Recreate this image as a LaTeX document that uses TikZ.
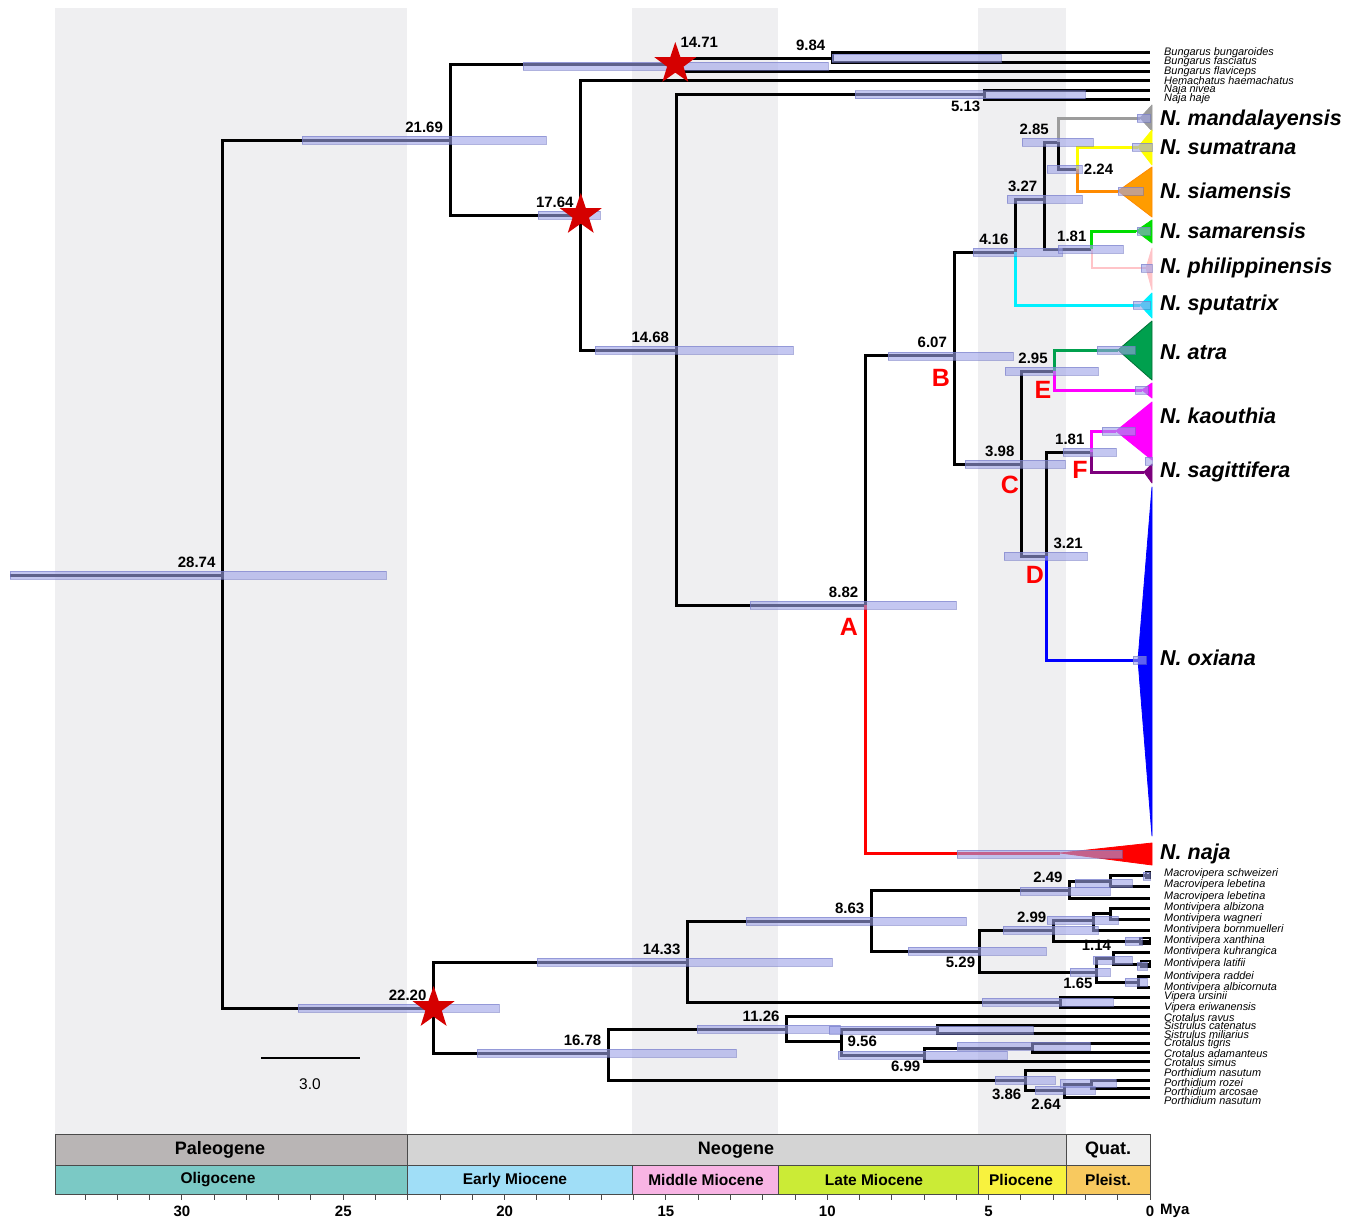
\documentclass[tikz,border=0pt]{standalone}
\usepackage{fontspec}
\setmainfont{Liberation Sans}
\usetikzlibrary{shapes.geometric}

% colours of the figure
\definecolor{stripegrey}{HTML}{EFEFF1}
\definecolor{hpdfill}{HTML}{9EA3E8}
\definecolor{hpdedge}{HTML}{6E74C4}
\definecolor{starred}{HTML}{D50000}
\definecolor{boxline}{HTML}{4A4A4A}
\definecolor{paleo}{HTML}{B9B5B5}
\definecolor{neo}{HTML}{D4D4D4}
\definecolor{quat}{HTML}{EFEFEF}
\definecolor{oligo}{HTML}{7BC9C5}
\definecolor{emio}{HTML}{A0DEF7}
\definecolor{mmio}{HTML}{F8B4E4}
\definecolor{lmio}{HTML}{CBEB36}
\definecolor{plio}{HTML}{F8F23E}
\definecolor{pleist}{HTML}{F8C95F}
\definecolor{mandgrey}{HTML}{9C9C9C}
\definecolor{sumyellow}{HTML}{FFFF00}
\definecolor{siamorange}{HTML}{FF8A00}
\definecolor{samgreen}{HTML}{00DD00}
\definecolor{philpink}{HTML}{FFC4C8}
\definecolor{sputcyan}{HTML}{00F0FF}
\definecolor{atragreen}{HTML}{00A04E}
\definecolor{kaomag}{HTML}{FF00FF}
\definecolor{sagpurple}{HTML}{7D007D}
\definecolor{oxblue}{HTML}{0000FF}
\definecolor{najared}{HTML}{FF0000}

% age (Mya) -> x position
\newcommand{\ax}[1]{1150-32.27*#1}
% 95% HPD bar from x1 to x2 at height y
\newcommand{\hpd}[3]{\draw[hpdbar] (#1,{#3-4}) rectangle (#2,{#3+4});}

\begin{document}
\begin{tikzpicture}[
    x=1pt, y=-1pt,
    branch/.style={line width=3pt, line join=miter},
    hpdbar/.style={fill=hpdfill, fill opacity=0.6, draw=hpdedge, draw opacity=0.55, line width=0.8pt},
    clade/.style={line width=0.8pt, line join=round},
    age/.style={font=\fontsize{15}{17}\selectfont\bfseries, inner sep=1pt},
    agel/.style={age, anchor=south east, xshift=-6pt, yshift=6pt},
    ager/.style={age, anchor=south west, xshift=6pt, yshift=6pt},
    ageb/.style={age, anchor=north east, xshift=-3pt, yshift=-5pt},
    agert/.style={age, anchor=west, xshift=5pt},
    clademark/.style={font=\fontsize{25}{28}\selectfont\bfseries, text=red},
    cladename/.style={font=\fontsize{21.5}{24}\selectfont\bfseries\itshape, anchor=west, inner sep=0pt},
    taxon/.style={font=\fontsize{10.9}{11}\selectfont\itshape, anchor=west, inner sep=0pt},
    calib/.style={star, star points=5, star point ratio=2.55, fill=starred, minimum size=44pt, inner sep=0pt},
    epoch/.style={draw=boxline, line width=1pt},
    epochtxt/.style={font=\fontsize{15.5}{17}\selectfont\bfseries},
    periodtxt/.style={font=\fontsize{18}{20}\selectfont\bfseries},
    axislbl/.style={font=\fontsize{15}{17}\selectfont\bfseries},
]
\useasboundingbox (0,0) rectangle (1358,1218);
\fill[white] (0,0) rectangle (1358,1218);

% Background stripes (epochs)
\fill[stripegrey] (55,8) rectangle (407,1134);
\fill[stripegrey] (632,8) rectangle (778,1134);
\fill[stripegrey] (978,8) rectangle (1066,1134);

% ---------------- Elapidae ----------------
\coordinate (r0) at (10,575);
\coordinate (n2874) at ({\ax{28.74}},575);
\coordinate (n2169) at ({\ax{21.69}},140);
\coordinate (n1471) at ({\ax{14.71}},64);
\coordinate (n984) at ({\ax{9.84}},58);
\coordinate (n1764) at ({\ax{17.64}},215);
\coordinate (n1468) at ({\ax{14.68}},350);
\coordinate (n513) at ({\ax{5.13}},94.5);
\coordinate (n882) at ({\ax{8.82}},605);
\coordinate (n607) at ({\ax{6.07}},355);
\coordinate (n416) at ({\ax{4.16}},252);
\coordinate (n327) at ({\ax{3.27}},199);
\coordinate (n285) at ({\ax{2.85}},142);
\coordinate (n224) at ({\ax{2.24}},169);
\coordinate (n181s) at ({\ax{1.81}},249);
\coordinate (n398) at ({\ax{3.98}},464);
\coordinate (n295) at ({\ax{2.95}},371);
\coordinate (n321) at ({\ax{3.21}},556);
\coordinate (n181k) at ({\ax{1.81}},452);

% tips and collapsed clades (apex of each triangle)
\foreach \y/\t [count=\i] in {52.7/Bungarus bungaroides, 62/Bungarus fasciatus,
    71.3/Bungarus flaviceps, 80.7/Hemachatus haemachatus, 90/Naja nivea, 99/Naja haje}
  {\coordinate (e\i) at (1150,\y);
   \node[taxon] (el\i) at (1164,\y) {\t};}
\coordinate (cMand) at (1140,118);
\coordinate (cSum) at (1138,147);
\coordinate (cSiam) at (1118,191);
\coordinate (cSam) at (1136,231);
\coordinate (cPhil) at (1146,268);
\coordinate (cSput) at (1140,305);
\coordinate (cAtra) at (1118,350);
\coordinate (cE) at (1142,390);
\coordinate (cKao) at (1116,431);
\coordinate (cSag) at (1144,472);
\coordinate (cOx) at (1138,660);
\coordinate (cNaja) at (1060,853);

\draw[branch] (r0) -- (n2874);
\draw[branch] (n2874) |- (n2169);
\draw[branch] (n2169) |- (n1471);
\draw[branch] (n2169) |- (n1764);
\draw[branch] (n1471) |- (n984);
\draw[branch] (n1471) |- (e3);
\draw[branch] (n984) |- (e1);
\draw[branch] (n984) |- (e2);
\draw[branch] (n1764) |- (e4);
\draw[branch] (n1764) |- (n1468);
\draw[branch] (n1468) |- (n513);
\draw[branch] (n1468) |- (n882);
\draw[branch] (n513) |- (e5);
\draw[branch] (n513) |- (e6);
\draw[branch] (n882) |- (n607);
\draw[branch, najared] (n882) |- (cNaja);
\draw[branch] (n607) |- (n416);
\draw[branch] (n607) |- (n398);
\draw[branch] (n416) |- (n327);
\draw[branch, sputcyan] (n416) |- (cSput);
\draw[branch] (n327) |- (n285);
\draw[branch] (n327) |- (n181s);
\draw[branch, mandgrey] (n285) |- (cMand);
\draw[branch] (n285) |- (n224);
\draw[branch, sumyellow] (n224) |- (cSum);
\draw[branch, siamorange] (n224) |- (cSiam);
\draw[branch, samgreen] (n181s) |- (cSam);
\draw[branch, philpink, line width=1.8pt] (n181s) |- (cPhil);
\draw[branch] (n398) |- (n295);
\draw[branch] (n398) |- (n321);
\draw[branch, atragreen] (n295) |- (cAtra);
\draw[branch, kaomag] (n295) |- (cE);
\draw[branch] (n321) |- (n181k);
\draw[branch, oxblue] (n321) |- (cOx);
\draw[branch, kaomag] (n181k) |- (cKao);
\draw[branch, sagpurple] (n181k) |- (cSag);

% collapsed clades
\filldraw[clade, fill=mandgrey, draw=mandgrey] (cMand) -- (1152,105) -- (1152,131) -- cycle;
\filldraw[clade, fill=sumyellow, draw=sumyellow] (cSum) -- (1152,130) -- (1152,165) -- cycle;
\filldraw[clade, fill=siamorange!85!yellow, draw=siamorange] (cSiam) -- (1152,167) -- (1152,217) -- cycle;
\filldraw[clade, fill=samgreen, draw=samgreen] (cSam) -- (1152,220) -- (1152,243) -- cycle;
\filldraw[clade, fill=philpink, draw=philpink] (cPhil) -- (1152,248) -- (1152,290) -- cycle;
\filldraw[clade, fill=sputcyan, draw=sputcyan] (cSput) -- (1152,293) -- (1152,318) -- cycle;
\filldraw[clade, fill=atragreen, draw=atragreen!70!black] (cAtra) -- (1152,321) -- (1152,380) -- cycle;
\filldraw[clade, fill=kaomag, draw=kaomag] (cE) -- (1152,383) -- (1152,398) -- cycle;
\filldraw[clade, fill=kaomag, draw=kaomag] (cKao) -- (1152,402) -- (1152,460) -- cycle;
\filldraw[clade, fill=sagpurple, draw=sagpurple] (cSag) -- (1152,464) -- (1152,483) -- cycle;
\filldraw[clade, fill=oxblue, draw=oxblue] (1152,487) -- (cOx) -- (1152,836) -- cycle;
\filldraw[clade, fill=najared, draw=najared] (cNaja) -- (1152,843) -- (1152,865) -- cycle;

% ---------------- Viperidae ----------------
\coordinate (n2220) at ({\ax{22.20}},1008);
\coordinate (n1433) at ({\ax{14.33}},962);
\coordinate (n863) at ({\ax{8.63}},921);
\coordinate (n249) at ({\ax{2.49}},890);
\coordinate (mSL) at (1110,881);
\coordinate (n529) at ({\ax{5.29}},951);
\coordinate (n299) at ({\ax{2.99}},930);
\coordinate (mAWB) at (1093,920);
\coordinate (mAW) at (1110,913);
\coordinate (n165) at ({\ax{1.65}},972);
\coordinate (n114) at ({\ax{1.14}},958);
\coordinate (mRA) at (1138,982);
\coordinate (mVip) at (1060,1002);
\coordinate (n1678) at ({\ax{16.78}},1053);
\coordinate (n1126) at ({\ax{11.26}},1029);
\coordinate (n956) at ({\ax{9.56}},1041);
\coordinate (mSis) at (937,1029);
\coordinate (n699) at ({\ax{6.99}},1055);
\coordinate (mTA) at (1032,1048);
\coordinate (n386) at ({\ax{3.86}},1080);
\coordinate (n264) at ({\ax{2.64}},1090);
\coordinate (mRz) at (1091,1084);

\foreach \y/\ly/\t [count=\i] in {875/874/Macrovipera schweizeri, 886/885/Macrovipera lebetina,
    898/897/Macrovipera lebetina, 908/908/Montivipera albizona, 919/919/Montivipera wagneri,
    930/930/Montivipera bornmuelleri, 941/941/Montivipera xanthina, 952/952/Montivipera kuhrangica,
    964/964/Montivipera latifii, 976/977/Montivipera raddei, 987/988/Montivipera albicornuta,
    997/997/Vipera ursinii, 1007/1008/Vipera eriwanensis, 1016/1018/Crotalus ravus,
    1025/1026/Sistrulus catenatus, 1033/1035/Sistrulus miliarius, 1043/1044/Crotalus tigris,
    1052/1054/Crotalus adamanteus, 1061/1063/Crotalus simus, 1070/1073/Porthidium nasutum,
    1080/1083/Porthidium rozei, 1088/1092/Porthidium arcosae, 1097/1101/Porthidium nasutum}
  {\coordinate (v\i) at (1150,\y);
   \node[taxon] (vl\i) at (1164,\ly) {\t};}

\draw[branch] (n2874) |- (n2220);
\draw[branch] (n2220) |- (n1433);
\draw[branch] (n2220) |- (n1678);
\draw[branch] (n1433) |- (n863);
\draw[branch] (n1433) |- (mVip);
\draw[branch] (n863) |- (n249);
\draw[branch] (n863) |- (n529);
\draw[branch] (n249) |- (mSL);
\draw[branch] (n249) |- (v3);
\draw[branch] (mSL) |- (v1);
\draw[branch] (mSL) |- (v2);
\draw[branch] (n529) |- (n299);
\draw[branch] (n529) |- (n165);
\draw[branch] (n299) |- (mAWB);
\draw[branch] (n299) |- (v7);
\draw[branch] (mAWB) |- (mAW);
\draw[branch] (mAWB) |- (v6);
\draw[branch] (mAW) |- (v4);
\draw[branch] (mAW) |- (v5);
\draw[branch] (n165) |- (n114);
\draw[branch] (n165) |- (mRA);
\draw[branch] (n114) |- (v8);
\draw[branch] (n114) |- (v9);
\draw[branch] (mRA) |- (v10);
\draw[branch] (mRA) |- (v11);
\draw[branch] (mVip) |- (v12);
\draw[branch] (mVip) |- (v13);
\draw[branch] (n1678) |- (n1126);
\draw[branch] (n1678) |- (n386);
\draw[branch] (n1126) |- (v14);
\draw[branch] (n1126) |- (n956);
\draw[branch] (n956) |- (mSis);
\draw[branch] (n956) |- (n699);
\draw[branch] (mSis) |- (v15);
\draw[branch] (mSis) |- (v16);
\draw[branch] (n699) |- (mTA);
\draw[branch] (n699) |- (v19);
\draw[branch] (mTA) |- (v17);
\draw[branch] (mTA) |- (v18);
\draw[branch] (n386) |- (v20);
\draw[branch] (n386) |- (n264);
\draw[branch] (n264) |- (mRz);
\draw[branch] (n264) |- (v23);
\draw[branch] (mRz) |- (v21);
\draw[branch] (mRz) |- (v22);

% very young pairs at the tips
\draw[line width=1.6pt] (1146,872) rectangle (1150,878);
\draw[line width=1.6pt] (1140,938) rectangle (1150,944);
\draw[line width=1.6pt] (1141,961) rectangle (1150,967);

% 95% HPD bars
\hpd{10}{386}{575}
\hpd{302}{546}{140}
\hpd{523}{828}{66}
\hpd{832}{1001}{58}
\hpd{538}{600}{215}
\hpd{595}{793}{350}
\hpd{855}{1085}{94.5}
\hpd{750}{956}{605}
\hpd{888}{1013}{356}
\hpd{973}{1062}{252}
\hpd{1007}{1082}{199}
\hpd{1022}{1093}{142}
\hpd{1047}{1082}{169}
\hpd{1058}{1123}{249}
\hpd{965}{1065}{464}
\hpd{1005}{1098}{371}
\hpd{1004}{1087}{556}
\hpd{1063}{1116}{452}
\hpd{957}{1122}{854}
\hpd{1137}{1150}{118}
\hpd{1132}{1152}{147}
\hpd{1118}{1143}{191}
\hpd{1137}{1150}{231}
\hpd{1141}{1152}{268}
\hpd{1133}{1150}{305}
\hpd{1097}{1135}{350}
\hpd{1135}{1148}{390}
\hpd{1102}{1135}{431}
\hpd{1145}{1152}{461}
\hpd{1133}{1146}{660}
\hpd{298}{499}{1008}
\hpd{537}{832}{962}
\hpd{746}{966}{921}
\hpd{908}{1046}{951}
\hpd{1020}{1110}{891}
\hpd{1075}{1132}{883}
\hpd{1003}{1098}{930}
\hpd{1047}{1118}{920}
\hpd{1070}{1110}{972}
\hpd{1093}{1132}{960}
\hpd{1125}{1147}{982}
\hpd{1125}{1142}{941}
\hpd{1137}{1147}{966}
\hpd{1143}{1150}{876}
\hpd{982}{1113}{1002}
\hpd{477}{736}{1053}
\hpd{697}{840}{1029}
\hpd{829}{1033}{1030}
\hpd{838}{1007}{1055}
\hpd{957}{1090}{1046}
\hpd{995}{1055}{1080}
\hpd{1035}{1095}{1090}
\hpd{1060}{1116}{1083}

% calibration points
\node[calib] (st1) at (n1471) {};
\node[calib] (st2) at (n1764) {};
\node[calib] (st3) at (n2220) {};

% node ages
\node[agel] (a2874) at (n2874) {28.74};
\node[agel] (a2169) at (n2169) {21.69};
\node[age, anchor=south west, xshift=4pt, yshift=15pt] (a1471) at (n1471) {14.71};
\node[agel] (a984) at (n984) {9.84};
\node[agel] (a1764) at (n1764) {17.64};
\node[agel] (a1468) at (n1468) {14.68};
\node[ageb] (a513) at (n513) {5.13};
\node[agel] (a882) at (n882) {8.82};
\node[agel] (a607) at (n607) {6.07};
\node[agel] (a416) at (n416) {4.16};
\node[agel] (a327) at (n327) {3.27};
\node[agel, xshift=-2pt] (a285) at (n285) {2.85};
\node[agert] (a224) at (n224) {2.24};
\node[agel, xshift=2pt] (a181s) at (n181s) {1.81};
\node[agel] (a398) at (n398) {3.98};
\node[agel] (a295) at (n295) {2.95};
\node[ager] (a321) at (n321) {3.21};
\node[agel] (a181k) at (n181k) {1.81};
\node[agel] (a2220) at (n2220) {22.20};
\node[agel] (a1433) at (n1433) {14.33};
\node[agel] (a863) at (n863) {8.63};
\node[ageb] (a529) at (n529) {5.29};
\node[agel] (a249) at (n249) {2.49};
\node[agel] (a299) at (n299) {2.99};
\node[agel, xshift=5pt] (a114) at (n114) {1.14};
\node[ageb] (a165) at (n165) {1.65};
\node[agel] (a1678) at (n1678) {16.78};
\node[agel] (a1126) at (n1126) {11.26};
\node[agert] (a956) at (n956) {9.56};
\node[ageb] (a699) at (n699) {6.99};
\node[ageb, yshift=-3pt] (a386) at (n386) {3.86};
\node[ageb, yshift=-3pt] (a264) at (n264) {2.64};

% clade letters
\node[clademark] (labA) at (849,627) {A};
\node[clademark] (labB) at (941,378) {B};
\node[clademark] (labC) at (1010,485) {C};
\node[clademark] (labD) at (1035,575) {D};
\node[clademark] (labE) at (1043,390) {E};
\node[clademark] (labF) at (1080,470) {F};

% collapsed clade names
\foreach \y/\t [count=\i] in {120/N. mandalayensis, 147/N. sumatrana, 191/N. siamensis,
    231/N. samarensis, 268/N. philippinensis, 305/N. sputatrix, 352/N. atra,
    416/N. kaouthia, 472/N. sagittifera, 658/N. oxiana, 854/N. naja}
  \node[cladename] (cn\i) at (1160,\y) {\t};

% scale bar
\coordinate (sb1) at (261,1058);
\coordinate (sb2) at (360,1058);
\draw[line width=2.2pt] (sb1) -- (sb2);
\node[font=\fontsize{15.5}{17}\selectfont] (sblbl) at (310,1084) {3.0};

% Geological time scale
\foreach \a/\b/\c/\m/\t [count=\i] in {55/407/paleo/220/Paleogene, 407/1066/neo/736/Neogene,
    1066/1150/quat/1108/Quat.}
  {\draw[epoch, fill=\c] (\a,1134) rectangle (\b,1165);
   \node[periodtxt] (period\i) at (\m,1150) {\t};}
\foreach \a/\b/\c/\m/\t [count=\i] in {55/407/oligo/218/Oligocene, 407/632/emio/515/Early Miocene,
    632/778/mmio/706/Middle Miocene, 778/978/lmio/874/Late Miocene, 978/1066/plio/1021/Pliocene,
    1066/1150/pleist/1108/Pleist.}
  {\draw[epoch, fill=\c] (\a,1165) rectangle (\b,1194);
   \node[epochtxt] (epoch\i) at (\m,1180) {\t};}
\foreach \m in {0,...,33}
  \draw[boxline, line width=1pt] ({\ax{\m}},1194) -- ++(0,6);
\foreach \m in {30,25,...,0}
  \node[axislbl] (ax\m) at ({\ax{\m}},1211) {\m};
\node[axislbl, anchor=west, inner sep=0pt] (myalbl) at (1160,1211) {Mya};

\end{tikzpicture}
\end{document}
